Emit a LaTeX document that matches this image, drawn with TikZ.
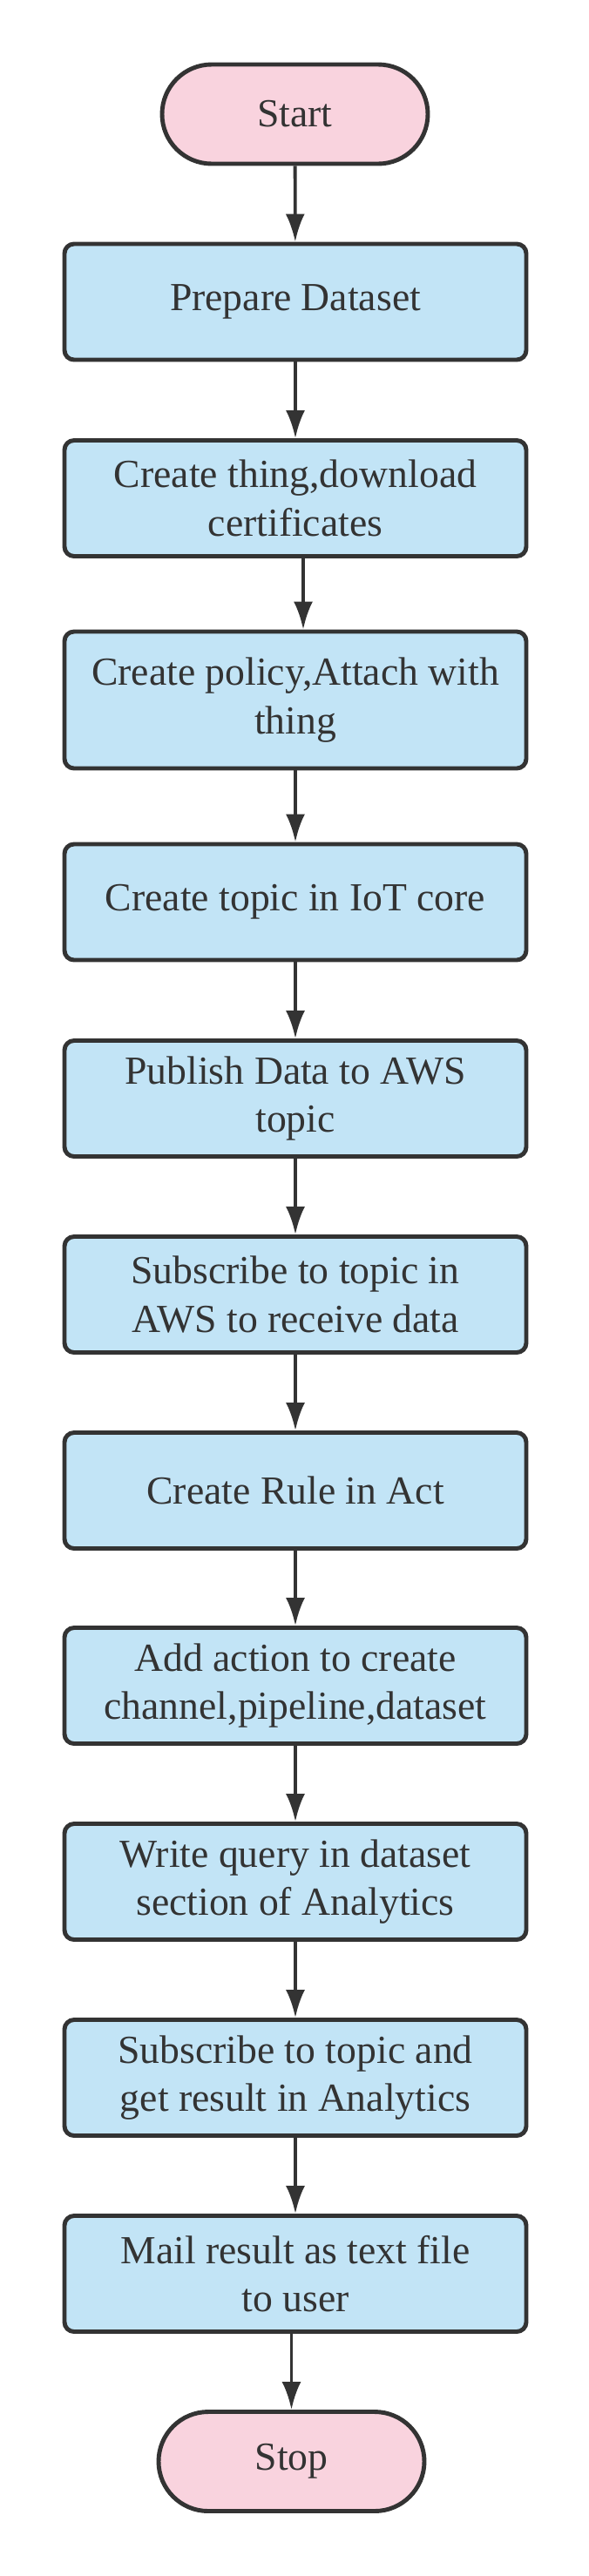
\documentclass[tikz,border=0pt]{standalone}
\usepackage{fontspec}
\setmainfont{Liberation Serif}
\usetikzlibrary{arrows.meta,shapes.misc}
\definecolor{bleu}{RGB}{194,228,246}
\definecolor{rose}{RGB}{249,211,222}
\definecolor{gris}{RGB}{51,51,51}

\begin{document}
\begin{tikzpicture}[
  etape/.style={draw=gris, fill=bleu, line width=2.8pt, rounded corners=0.22cm,
    minimum width=10.6cm, minimum height=2.66cm, inner sep=0pt, align=center,
    text=gris, font=\fontsize{26}{31.7}\selectfont},
  terminal/.style={rounded rectangle, draw=gris, fill=rose, line width=2.8pt,
    minimum width=6.1cm, minimum height=2.28cm, inner sep=0pt,
    text=gris, font=\fontsize{26}{31.7}\selectfont},
  fleche/.style={draw=gris, line width=2.2pt, -{Latex[length=0.64cm,width=0.44cm]}}
]
\useasboundingbox (0,0) rectangle (13.5,-59.14);
\node[terminal] (start) at (6.77,-2.62) {Start} ;
\node[etape] (prep) at (6.78,-6.93) {Prepare Dataset} ;
\node[etape] (thing) at (6.78,-11.44) {Create thing,download\\certificates} ;
\node[etape, minimum height=3.14cm] (policy) at (6.78,-16.07) {Create policy,Attach with\\thing} ;
\node[etape] (topic) at (6.78,-20.71) {Create topic in IoT core} ;
\node[etape] (pub) at (6.78,-25.22) {Publish Data to AWS\\topic} ;
\node[etape] (sub) at (6.78,-29.72) {Subscribe to topic in\\AWS to receive data} ;
\node[etape] (rule) at (6.78,-34.22) {Create Rule in Act} ;
\node[etape] (act) at (6.78,-38.70) {Add action to create\\channel,pipeline,dataset} ;
\node[etape] (query) at (6.78,-43.20) {Write query in dataset\\section of Analytics} ;
\node[etape] (res) at (6.78,-47.70) {Subscribe to topic and\\get result in Analytics} ;
\node[etape] (mail) at (6.78,-52.20) {Mail result as text file\\to user} ;
\node[terminal] (stop) at (6.69,-56.51) {Stop} ;
% fleches
\draw[fleche] (start) -- (prep) ;
\draw[fleche] (prep) -- (thing) ;
\draw[fleche] ([xshift=0.18cm]thing.south) -- ([xshift=0.18cm]policy.north) ;
\draw[fleche] (policy) -- (topic) ;
\draw[fleche] (topic) -- (pub) ;
\draw[fleche] (pub) -- (sub) ;
\draw[fleche] (sub) -- (rule) ;
\draw[fleche] (rule) -- (act) ;
\draw[fleche] (act) -- (query) ;
\draw[fleche] (query) -- (res) ;
\draw[fleche] (res) -- (mail) ;
\draw[fleche] (mail.south -| stop.north) -- (stop.north) ;
\end{tikzpicture}
\end{document}
